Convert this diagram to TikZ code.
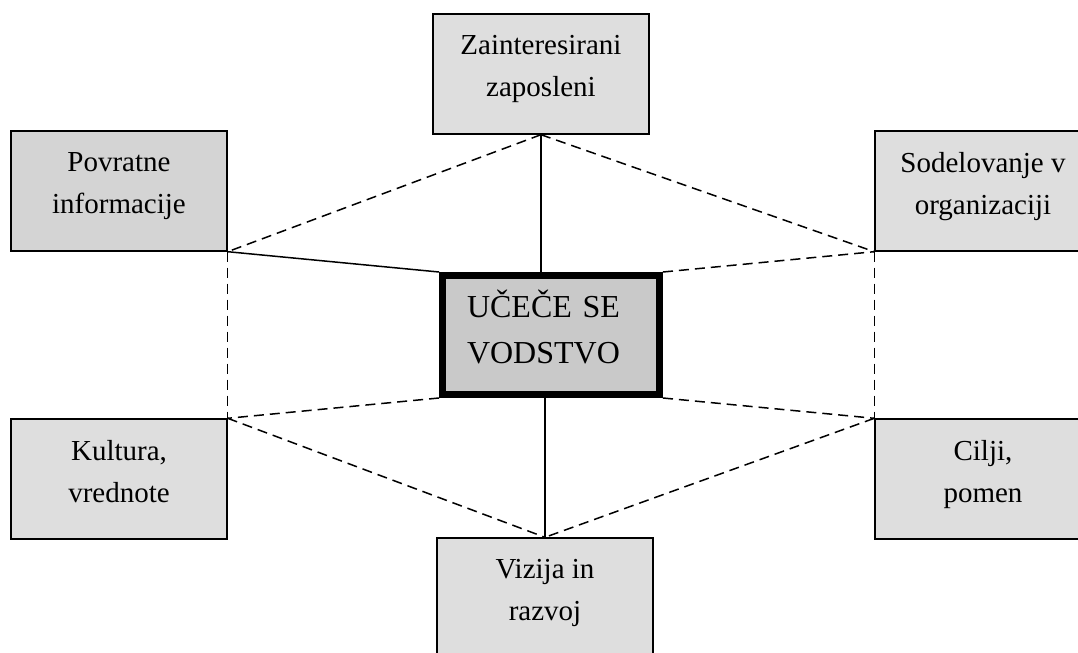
\documentclass[tikz,border=0pt]{standalone}
\usepackage{fontspec}
\setmainfont{Liberation Serif}
\definecolor{lg}{rgb}{.87,.87,.87}
\definecolor{mg}{rgb}{.83,.83,.83}
\definecolor{dg}{rgb}{.79,.79,.79}
\usepackage{tikz}

\begin{document}
\begin{tikzpicture}[
      x=.5pt, y=-.5pt,
      every node/.style={font=\fontsize{14.5}{21}\selectfont},
      box/.style={draw, line width=.7pt, fill=lg, align=center,
                  text depth=8pt,
                  minimum width=108pt, minimum height=60pt, inner sep=0pt},
      link/.style={line width=.75pt},
      hex/.style={line width=.75pt, dash pattern=on 5pt off 3pt}]

        \useasboundingbox (0,0) rectangle (1078,653);

        \node[box] (zap) at (541,74) {Zainteresirani\\zaposleni};

        \node[box, fill=mg] (pov) at (119,191) {Povratne\\informacije};
        \node[box] (sod) at (983,191) {Sodelovanje v\\organizaciji};

        {
        \node[box, fill=dg, line width=3.5pt, minimum width=108.5pt,
              minimum height=59.5pt, text width=84pt, align=left,
              text depth=31pt,
              font=\fontsize{16}{23}\selectfont] (vod) at (551,335)
              {UČEČE SE\\VODSTVO};
        }

        \node[box] (kul) at (119,479) {Kultura,\\vrednote};
        \node[box] (cil) at (983,479) {Cilji,\\pomen};

        \node[box] (viz) at (545,598) {Vizija in\\razvoj};


        \draw[link] (zap.south) -- (zap.south |- vod.north);
        \draw[link] (viz.north) -- (viz.north |- vod.south);
        \draw[link] (pov.south east) -- (vod.north west);

        % hexagon round the centre
        \foreach \a/\b in {zap.south/pov.south east, zap.south/sod.south west,
                           pov.south east/kul.north east, sod.south west/cil.north west,
                           kul.north east/viz.north, cil.north west/viz.north}
          \draw[hex] (\a) -- (\b);

        % from the centre box
        \foreach \a/\b in {vod.north east/sod.south west, vod.south west/kul.north east,
                           vod.south east/cil.north west}
          \draw[hex] (\a) -- (\b);

      \end{tikzpicture}
\end{document}
